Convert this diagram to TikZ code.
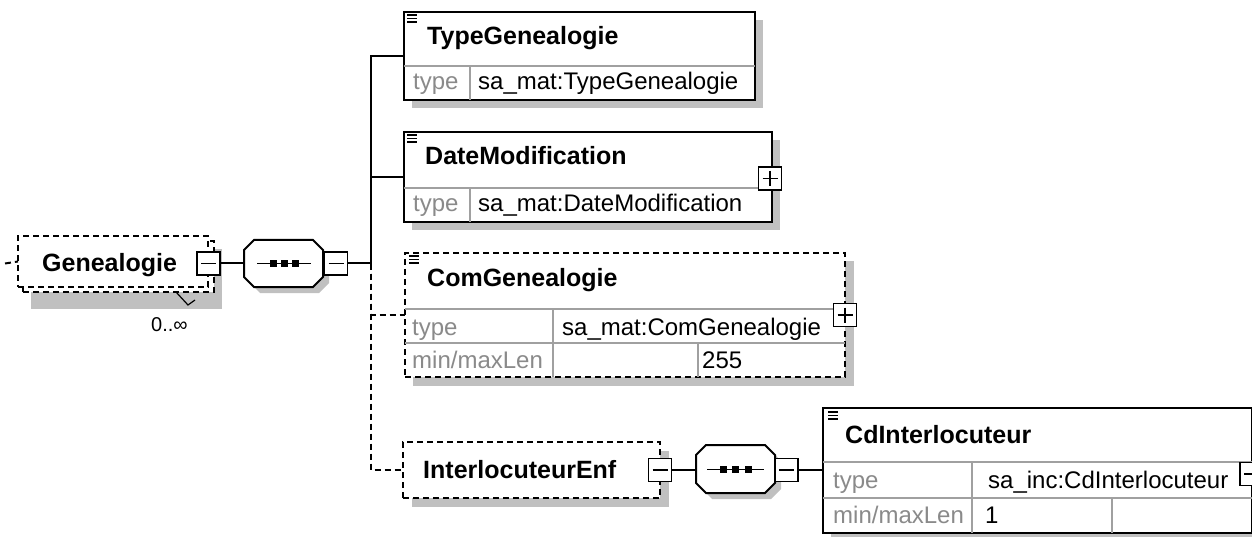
\documentclass[tikz,border=0pt]{standalone}
\usepackage{fontspec}
\setmainfont{Liberation Sans}
\definecolor{shadowgray}{HTML}{C0C0C0}
\definecolor{labelgray}{HTML}{8A8A8A}
\definecolor{divgray}{HTML}{A0A0A0}
\begin{document}
\begin{tikzpicture}[x=1pt,y=-1pt,
  elbox/.style={draw=black, line width=2pt, fill=white, inner sep=0pt, outer sep=0pt, anchor=north west},
  delbox/.style={elbox, dash pattern=on 6pt off 4pt},
  shd/.style={fill=shadowgray, draw=none},
  nametxt/.style={font=\fontsize{25}{30}\selectfont\bfseries, anchor=base west, inner sep=0pt},
  lbltxt/.style={font=\fontsize{24}{28}\selectfont, text=labelgray, anchor=base west, inner sep=0pt},
  valtxt/.style={font=\fontsize{24}{28}\selectfont, anchor=base west, inner sep=0pt},
  conn/.style={line width=2pt},
  dconn/.style={conn, dash pattern=on 6pt off 4pt},
  divline/.style={draw=divgray, line width=1.6pt},
  mbox/.style={draw=black, fill=white, line width=1.6pt, minimum size=23pt, inner sep=0pt, outer sep=0pt,
    path picture={\draw[line width=1.6pt] ([xshift=4pt]path picture bounding box.west) -- ([xshift=-4pt]path picture bounding box.east);}},
  pbox/.style={draw=black, fill=white, line width=1.6pt, minimum size=23pt, inner sep=0pt, outer sep=0pt,
    path picture={\draw[line width=1.6pt] ([xshift=4pt]path picture bounding box.west) -- ([xshift=-4pt]path picture bounding box.east);
      \draw[line width=1.6pt] ([yshift=-4pt]path picture bounding box.north) -- ([yshift=4pt]path picture bounding box.south);}},
  octa/.style={draw=black, fill=white, line width=2pt},
  dotsq/.style={fill=black, draw=none},
  iconline/.style={line width=1.2pt},
  seqnode/.style={inner sep=0pt, outer sep=0pt, minimum width=79pt, minimum height=47pt}
]
\useasboundingbox (0,0) rectangle (1252,537);
\clip (0,0) rectangle (1252,537);

% ---------------- Genealogie ----------------
\fill[shd] (31,249) rectangle (222,309);
\node[delbox, minimum width=191pt, minimum height=51pt] (genback) at (23,241) {};
\node[delbox, minimum width=190pt, minimum height=51pt] (gen) at (18,236) {};
\node[nametxt] (gentxt) at (42,272) {Genealogie};
\node[mbox] (genm) at (208.5,263.5) {};
\coordinate (inA) at (5,263.5);
\draw[dconn] (inA) -- (gen.west);
\draw[line width=1.2pt] (176,292) -- (188,305) -- (195,300);
\node[valtxt, font=\fontsize{20}{24}\selectfont] (occ) at (151,331) {0..∞};

% ---------------- sequence A ----------------
\fill[shd] (260,246) -- (319,246) -- (329,256) -- (329,283) -- (319,293) -- (260,293) -- (250,283) -- (250,256) -- cycle;
\draw[octa] (254,240) -- (313,240) -- (323,250) -- (323,277) -- (313,287) -- (254,287) -- (244,277) -- (244,250) -- cycle;
\node[seqnode] (seqA) at (283.5,263.5) {};
\draw[line width=1.6pt] (257,263.5) -- (311,263.5);
\fill[dotsq] (270,260) rectangle (277,267);
\fill[dotsq] (281,260) rectangle (288,267);
\fill[dotsq] (292,260) rectangle (299,267);
\node[mbox] (seqAm) at (336,263.5) {};
\draw[conn] (genm.east) -- (seqA.west);
\coordinate (bus) at (371,263.5);

% ---------------- TypeGenealogie ----------------
\fill[shd] (412,20) rectangle (763,108);
\node[elbox, minimum width=351pt, minimum height=88pt] (tg) at (404,12) {};
\draw[divline] (404,66) -- (755,66);
\draw[divline] (470,66) -- (470,100);
\draw[iconline] (407,15) -- (417,15) (407,18.5) -- (417,18.5) (407,22) -- (417,22);
\node[nametxt] (tgname) at (427,45) {TypeGenealogie};
\node[lbltxt] (tgl) at (413,90) {type};
\node[valtxt] (tgv) at (478,90) {sa\_mat:TypeGenealogie};

% ---------------- DateModification ----------------
\fill[shd] (412,140) rectangle (780,230);
\node[elbox, minimum width=368pt, minimum height=90pt] (dm) at (404,132) {};
\draw[divline] (404,188) -- (772,188);
\draw[divline] (470,188) -- (470,222);
\draw[iconline] (407,135) -- (417,135) (407,138.5) -- (417,138.5) (407,142) -- (417,142);
\node[nametxt] (dmname) at (425,165) {DateModification};
\node[lbltxt] (dml) at (413,212) {type};
\node[valtxt] (dmv) at (478,212) {sa\_mat:DateModification};
\node[pbox] (dmp) at (770,178.5) {};

% ---------------- ComGenealogie ----------------
\fill[shd] (413,261) rectangle (854,386);
\node[delbox, minimum width=440pt, minimum height=124pt] (cg) at (405,253) {};
\draw[divline] (405,309) -- (845,309);
\draw[divline] (405,343) -- (845,343);
\draw[divline] (553,309) -- (553,377);
\draw[divline] (698,343) -- (698,377);
\draw[iconline] (409,256) -- (419,256) (409,259.5) -- (419,259.5) (409,263) -- (419,263);
\node[nametxt] (cgname) at (427,287) {ComGenealogie};
\node[lbltxt] (cgl) at (412,335) {type};
\node[valtxt] (cgv) at (562,335) {sa\_mat:ComGenealogie};
\node[lbltxt] (cgl2) at (412,368) {min/maxLen};
\node[valtxt] (cgv2) at (702,368) {255};
\node[pbox] (cgp) at (845,315) {};

% ---------------- InterlocuteurEnf ----------------
\fill[shd] (412,451) rectangle (669,507);
\node[delbox, minimum width=257pt, minimum height=56pt] (ie) at (403,442) {};
\node[nametxt] (iename) at (423,478) {InterlocuteurEnf};
\node[mbox] (iem) at (660,470) {};

% ---------------- sequence B ----------------
\fill[shd] (712,451) -- (771,451) -- (781,461) -- (781,489) -- (771,499) -- (712,499) -- (702,489) -- (702,461) -- cycle;
\draw[octa] (706,445) -- (765,445) -- (775,455) -- (775,483) -- (765,493) -- (706,493) -- (696,483) -- (696,455) -- cycle;
\node[seqnode, minimum height=48pt] (seqB) at (735.5,469) {};
\draw[line width=1.6pt] (707,469.5) -- (764,469.5);
\fill[dotsq] (719.5,466) rectangle (726.5,473);
\fill[dotsq] (732,466) rectangle (739,473);
\fill[dotsq] (744.5,466) rectangle (751.5,473);
\node[mbox] (seqBm) at (786.5,470) {};

% ---------------- CdInterlocuteur ----------------
\fill[shd] (831,416) rectangle (1262,541);
\node[elbox, minimum width=429pt, minimum height=125pt] (cd) at (823,408) {};
\draw[divline] (823,462) -- (1252,462);
\draw[divline] (823,498) -- (1252,498);
\draw[divline] (972,462) -- (972,533);
\draw[divline] (1112,498) -- (1112,533);
\draw[iconline] (828,412) -- (838,412) (828,415.5) -- (838,415.5) (828,419) -- (838,419);
\node[nametxt] (cdname) at (845,443) {CdInterlocuteur};
\node[lbltxt] (cdl) at (833,488) {type};
\node[valtxt] (cdv) at (988,488) {sa\_inc:CdInterlocuteur};
\node[lbltxt] (cdl2) at (833,523) {min/maxLen};
\node[valtxt] (cdv2) at (985,523) {1};
\node[mbox] (cdm) at (1251.5,474) {};

% ---------------- connectors ----------------
\draw[conn] (seqAm.east) -- (bus);
\draw[conn] (bus) |- (tg.west);
\draw[conn] (bus) |- (dm.west);
\draw[dconn] (bus) |- (cg.west);
\draw[dconn] (bus) |- (ie.west);
\draw[conn] (iem.east) -- (seqB.west |- iem.east);
\draw[conn] (seqBm.east) -- (cd.west |- seqBm.east);
\end{tikzpicture}
\end{document}
